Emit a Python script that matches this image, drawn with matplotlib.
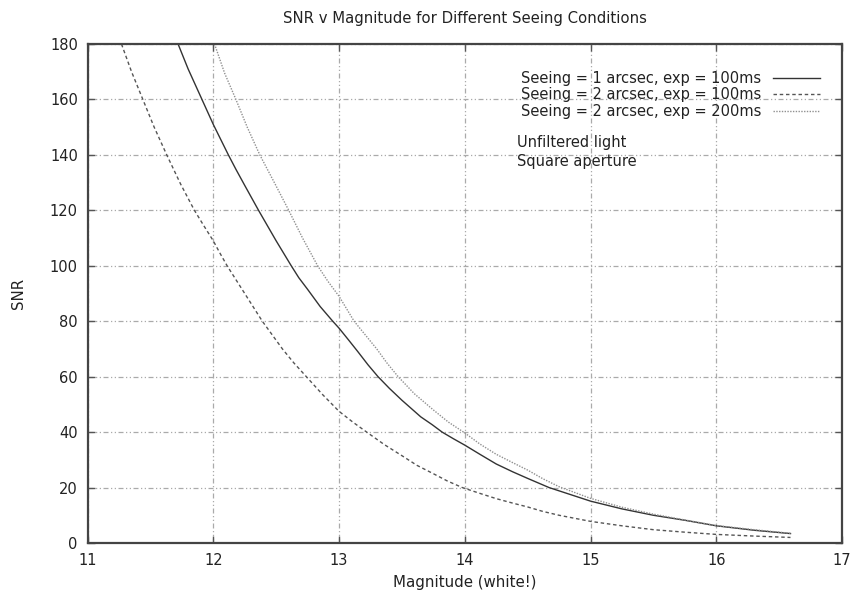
import matplotlib
matplotlib.use("Agg")
import matplotlib.pyplot as plt

plt.rcParams['font.family'] = ['DejaVu Sans']

# Seeing = 1 arcsec, exp = 100ms
mag_s1_100 = [11.72, 11.8, 11.91, 12.0, 12.06, 12.12, 12.18, 12.25, 12.36, 12.43, 12.5,
              12.56, 12.62, 12.68, 12.75, 12.85, 12.95, 13.0, 13.08, 13.15, 13.23, 13.31,
              13.4, 13.5, 13.58, 13.65, 13.74, 13.82, 13.91, 14.0, 14.12, 14.25, 14.38,
              14.5, 14.67, 15.0, 15.25, 15.5, 15.75, 16.0, 16.3, 16.59]
snr_s1_100 = [180, 171, 160, 151, 145.5, 140, 134.8, 129, 120, 114.5, 109,
              104.5, 100, 95.7, 91.5, 85.3, 80, 77.5, 73, 69, 64.3, 60,
              55.8, 51.5, 48.3, 45.5, 42.7, 40, 37.6, 35.3, 32, 28.5, 25.7,
              23.3, 20, 15.1, 12.3, 10, 8.2, 6.2, 4.6, 3.4]

# Seeing = 2 arcsec, exp = 100ms
mag_s2_100 = [11.27, 11.35, 11.44, 11.53, 11.63, 11.74, 11.85, 11.92, 12.0, 12.05, 12.11,
              12.18, 12.25, 12.32, 12.39, 12.47, 12.55, 12.64, 12.74, 12.87, 13.0, 13.11,
              13.22, 13.36, 13.5, 13.62, 13.75, 13.86, 13.98, 14.12, 14.25, 14.38, 14.5,
              14.62, 14.75, 15.0, 15.25, 15.5, 15.75, 16.0, 16.3, 16.59]
snr_s2_100 = [180, 170, 160, 150, 140, 129.5, 120, 114.8, 109, 104.8, 100,
              95, 90, 85, 80, 75, 70, 65, 60, 53.5, 47.5, 43.6,
              40, 35.5, 31.5, 28, 25, 22.4, 20, 17.9, 16, 14.4, 13,
              11.4, 10, 7.8, 6.2, 4.8, 3.9, 3.1, 2.5, 2.0]

# Seeing = 2 arcsec, exp = 200ms
mag_s2_200 = [12.01, 12.09, 12.18, 12.27, 12.37, 12.48, 12.6, 12.71, 12.83, 12.91, 13.0,
              13.06, 13.12, 13.21, 13.3, 13.38, 13.47, 13.6, 13.75, 13.87, 14.0, 14.12,
              14.25, 14.38, 14.5, 14.62, 14.75, 15.0, 15.25, 15.5, 15.75, 16.0, 16.3, 16.59]
snr_s2_200 = [180, 169.5, 160, 150, 140, 130.5, 120, 110, 100, 94.5, 89,
              84.5, 80, 75, 70, 65, 60, 53.8, 48, 43.6, 39.7, 35.7,
              32, 29, 26.3, 23.2, 20.3, 16.1, 12.9, 10.4, 8.3, 6.3, 4.8, 3.5]

labels = ["Seeing = 1 arcsec, exp = 100ms",
          "Seeing = 2 arcsec, exp = 100ms",
          "Seeing = 2 arcsec, exp = 200ms"]
xticks = [11, 12, 13, 14, 15, 16, 17]
yticks = [0, 20, 40, 60, 80, 100, 120, 140, 160, 180]

fig = plt.figure(figsize=(8.54, 5.99), dpi=100)
ax = fig.add_axes([0.1025, 0.0935, 0.8835, 0.833])

ax.plot(mag_s1_100, snr_s1_100, color='#333333', lw=1.0, ls='-', label=labels[0])
ax.plot(mag_s2_100, snr_s2_100, color='#555555', lw=1.0, ls=(0, (2.5, 2)), label=labels[1])
ax.plot(mag_s2_200, snr_s2_200, color='#909090', lw=1.0, ls=(0, (1, 1)), label=labels[2])

ax.set_xlim(11, 17)
ax.set_ylim(0, 180)
ax.set_xticks(xticks)
ax.set_yticks(yticks)
ax.grid(True, color='#aaaaaa', lw=0.9, ls=(0, (4, 2, 1, 2, 1, 2)))
ax.tick_params(direction='in', length=5, width=1, color='#555555',
               labelsize=10.5, labelcolor='#222222', top=True, right=True, pad=7)
for s in ax.spines.values():
    s.set_linewidth(1.6)
    s.set_color('#444444')

ax.set_title("SNR v Magnitude for Different Seeing Conditions", fontsize=10.7, pad=15,
             color='#222222')
ax.set_xlabel("Magnitude (white!)", fontsize=10.8, labelpad=5, color='#222222')
ax.set_ylabel("SNR", fontsize=10.8, labelpad=17, color='#222222')

leg = ax.legend(loc='upper right', bbox_to_anchor=(0.978, 0.957), frameon=False,
                markerfirst=False, fontsize=10.5, handlelength=3.2, handletextpad=0.8,
                labelspacing=0.08, borderaxespad=0)
for t in leg.get_texts():
    t.set_color('#222222')

ax.text(0.569, 0.818, "Unfiltered light\nSquare aperture", transform=ax.transAxes,
        fontsize=10.5, va='top', ha='left', linespacing=1.36, color='#222222')

fig.savefig("out.png", dpi=100)
